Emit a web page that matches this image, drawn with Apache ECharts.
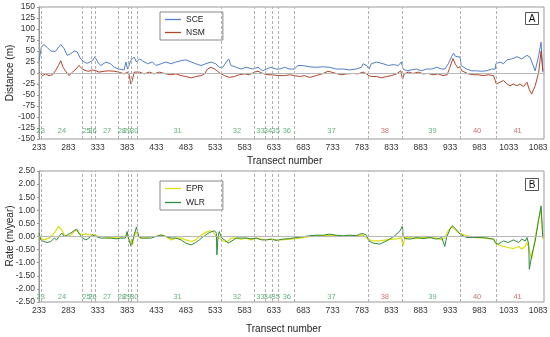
<!DOCTYPE html>
<html><head><meta charset="utf-8">
<script src="https://cdn.jsdelivr.net/npm/echarts@6/dist/echarts.min.js"></script>
<style>html,body{margin:0;padding:0;background:#fff}#c{width:550px;height:337px}</style>
</head><body><div id="c"></div>
<script>
// Transect numbers of the segment boundaries (dashed lines)
const boundaries = [236, 307, 322, 328, 368, 385, 390, 400, 543, 600, 618, 631, 641, 668, 793, 852, 951, 1011];
// Segment labels: [name, centre transect, isEroding]
const segNames   = ['23','24','25','26','27','28','29','30','31','32','33','34','35','36','37','38','39','40','41'];
const segCentres = [236, 272, 314, 324, 349, 374, 383, 395, 469, 570, 610, 623, 636, 655, 731, 822, 903, 979, 1048];
const segRed     = [0,0,0,0,0,0,0,0,0,0,0,0,0,0,0,1,0,1,1];
const xTicksFrom = 233, xTickStep = 50, xMax = 1093;

const SCE = [[233,28],[237,58],[241,65],[247,58],[253,50],[261,49],[270,65],[276,55],[281,40],[287,44],[293,50],[298,48],[304,32],[310,25],[315,22],[324,28],[328,37],[333,25],[338,17],[347,25],[355,21],[361,13],[369,9],[378,7],[381,25],[384,9],[389,28],[395,36],[399,25],[404,32],[409,28],[418,21],[426,25],[432,17],[441,21],[449,25],[458,21],[466,25],[475,28],[483,30],[492,25],[500,21],[509,17],[517,21],[526,25],[534,21],[540,13],[546,13],[552,25],[556,32],[560,17],[569,13],[577,9],[586,13],[597,9],[606,13],[614,5],[620,9],[628,13],[637,9],[643,9],[651,13],[660,9],[668,9],[674,17],[682,17],[694,14],[705,13],[717,14],[728,13],[739,9],[751,9],[762,7],[773,9],[782,13],[785,21],[791,17],[795,9],[799,21],[808,25],[819,21],[828,17],[836,19],[845,17],[850,25],[853,9],[859,5],[867,7],[876,9],[884,5],[893,9],[902,9],[910,13],[919,9],[924,9],[930,21],[936,38],[939,45],[942,38],[945,42],[950,36],[952,17],[961,9],[970,5],[978,5],[987,4],[995,5],[1004,9],[1010,9],[1011,21],[1018,25],[1024,21],[1030,30],[1038,32],[1047,37],[1055,32],[1064,40],[1069,36],[1078,5],[1084,40],[1088,70],[1091,2]];
const NSM = [[233,2],[239,-6],[244,-2],[250,-6],[256,-4],[261,5],[266,17],[270,28],[274,13],[278,5],[284,-6],[290,2],[296,9],[301,17],[307,9],[313,5],[318,4],[324,7],[330,5],[335,2],[344,4],[352,5],[361,4],[369,2],[378,-2],[384,2],[387,-6],[389,-25],[392,-17],[395,2],[398,5],[404,2],[412,-2],[421,2],[429,-2],[438,2],[449,-2],[458,-4],[466,-2],[475,-6],[483,-8],[492,-11],[500,-8],[509,-6],[515,-2],[520,9],[526,13],[532,9],[537,4],[543,-2],[549,-6],[557,-10],[566,-8],[574,-4],[583,-2],[591,-4],[600,2],[606,4],[614,-1],[623,-4],[631,-4],[640,-6],[643,-8],[651,-6],[660,-4],[668,-6],[677,-8],[685,-6],[694,-10],[705,-6],[717,-1],[725,4],[731,2],[739,-1],[748,-4],[756,-2],[768,-1],[776,-2],[785,2],[791,-2],[795,-6],[799,-8],[808,-8],[816,-11],[825,-8],[833,-6],[842,-2],[849,5],[852,-14],[855,-2],[862,2],[870,-1],[879,2],[887,-2],[896,-1],[904,-4],[913,-2],[921,-6],[928,-4],[932,10],[938,33],[942,20],[946,12],[950,14],[953,5],[956,2],[964,-2],[973,-4],[981,-4],[990,-6],[998,-4],[1007,-6],[1010,-10],[1012,-25],[1018,-21],[1024,-17],[1030,-25],[1035,-29],[1041,-25],[1047,-29],[1052,-25],[1058,-31],[1064,-21],[1068,-38],[1072,-48],[1078,-29],[1084,2],[1088,50],[1091,5]];
const EPR = [[233,0],[236,-0.06],[241,-0.13],[250,-0.06],[256,0.06],[261,0.19],[266,0.38],[269,0.45],[272,0.25],[276,0.06],[281,0],[287,0.06],[293,0.19],[297,0.25],[301,0.13],[307,0.06],[313,0.1],[318,0.06],[327,0.06],[335,0],[344,0],[352,-0.06],[361,-0.04],[370,-0.06],[378,0],[384,0.06],[387,-0.13],[390,-0.19],[392,-0.32],[395,0],[398,0.19],[401,0.06],[406,-0.06],[415,-0.06],[424,0],[432,0],[441,0.06],[449,0],[458,-0.13],[466,-0.06],[475,-0.06],[483,-0.13],[492,-0.19],[500,-0.13],[506,0],[515,0.13],[523,0.22],[529,0.19],[535,0],[540,-0.06],[544,-0.13],[549,-0.19],[554,-0.19],[560,-0.06],[569,-0.06],[577,-0.1],[586,-0.06],[594,-0.13],[603,-0.06],[612,-0.1],[620,-0.13],[628,-0.1],[637,-0.13],[648,-0.13],[660,-0.1],[671,-0.08],[682,-0.04],[694,-0.01],[705,0.03],[717,0.03],[728,0.05],[739,0.03],[751,-0.01],[762,0.03],[773,0.03],[785,0.06],[793,-0.1],[802,-0.17],[813,-0.17],[825,-0.13],[836,-0.1],[845,-0.08],[850,-0.04],[853,-0.36],[856,-0.04],[865,-0.04],[876,-0.08],[887,-0.04],[899,-0.04],[910,-0.06],[919,-0.13],[924,-0.04],[930,0.22],[936,0.38],[941,0.28],[947,0.15],[953,0.09],[961,0.03],[970,-0.01],[978,-0.04],[990,-0.04],[998,-0.08],[1007,-0.1],[1010,-0.17],[1012,-0.29],[1024,-0.38],[1032,-0.42],[1041,-0.46],[1050,-0.38],[1055,-0.48],[1061,-0.38],[1064,-0.23],[1068,-0.48],[1072,-0.87],[1078,-0.04],[1084,0.66],[1088,1.04],[1091,-0.1]];
const WLR = [[233,0.13],[236,-0.13],[241,-0.19],[247,-0.23],[253,-0.19],[259,-0.06],[263,-0.13],[267,0],[272,0.13],[276,0],[281,0.06],[287,0.13],[293,0.23],[297,0.28],[301,0.13],[307,-0.06],[313,-0.13],[318,-0.06],[324,0.06],[330,0],[338,-0.06],[347,-0.06],[355,-0.06],[364,-0.09],[372,-0.06],[380,-0.06],[383,0.19],[386,-0.13],[390,-0.38],[392,-0.32],[395,0.06],[399,0.36],[403,0],[407,-0.06],[415,-0.06],[424,-0.06],[432,0],[441,0.06],[449,0],[458,-0.06],[466,-0.06],[475,-0.13],[483,-0.25],[492,-0.32],[500,-0.23],[506,-0.13],[515,0.03],[523,0.15],[532,0.22],[535,0.13],[536,-0.7],[538,0],[540,0.19],[544,-0.06],[549,-0.13],[555,-0.25],[560,-0.19],[569,-0.06],[577,-0.06],[586,-0.06],[594,-0.09],[603,-0.06],[612,-0.13],[620,-0.13],[629,-0.1],[637,-0.15],[648,-0.1],[660,-0.08],[671,-0.04],[682,-0.01],[694,0.03],[705,0.05],[717,0.05],[728,0.09],[739,0.05],[751,0.03],[762,0.05],[774,0.03],[779,0.09],[785,0.11],[791,0.05],[795,-0.17],[802,-0.25],[813,-0.29],[822,-0.2],[830,-0.1],[839,0.03],[848,0.22],[852,0.41],[853,0.03],[856,-0.08],[865,-0.1],[876,-0.04],[887,-0.08],[899,-0.04],[910,-0.1],[919,-0.04],[924,-0.38],[927,-0.04],[933,0.28],[937,0.41],[943,0.28],[950,0.09],[961,-0.04],[973,-0.04],[984,-0.04],[996,-0.06],[1007,-0.1],[1010,-0.23],[1015,-0.29],[1024,-0.17],[1032,-0.23],[1041,-0.13],[1050,-0.23],[1055,-0.1],[1061,-0.17],[1064,-0.04],[1067,-0.29],[1068,-1.25],[1072,-0.74],[1078,-0.17],[1084,0.66],[1088,1.17],[1091,-0.04]];

const FONT = 'Liberation Sans, Arial, sans-serif';
const GREEN_LBL = '#3f9d5c', RED_LBL = '#c0504d';
const LINE_ICON = 'path://M0,0 L20,0 L20,1.6 L0,1.6 Z';
function segSeries(xi, yi, yPos) {
  return {
    type: 'scatter', xAxisIndex: xi, yAxisIndex: yi, symbolSize: 0, silent: true, z: 5,
    data: segNames.map((n, i) => ({ name: n, value: [segCentres[i], yPos],
      label: { color: segRed[i] ? RED_LBL : GREEN_LBL } })),
    label: { show: true, position: 'inside', formatter: p => p.name, fontSize: 7.5, fontFamily: FONT }
  };
}
function vlines() {
  return { silent: true, symbol: 'none', label: { show: false },
    lineStyle: { color: '#b0b0b0', type: [3, 2], width: 1 },
    data: boundaries.map(b => ({ xAxis: b })).concat([{ yAxis: 0, lineStyle: { color: '#b8b8b8', type: 'solid', width: 1 } }]) };
}
const xAxisBase = (gi) => ({
  type: 'value', gridIndex: gi, min: xTicksFrom, max: xMax, interval: xTickStep,
  axisLine: { show: true, lineStyle: { color: '#999' } }, axisTick: { show: false },
  splitLine: { show: false },
  axisLabel: { fontSize: 8.5, color: '#333', fontFamily: FONT, margin: 4, showMaxLabel: false, formatter: v => String(v) }
});
const yAxisBase = (gi) => ({
  type: 'value', gridIndex: gi,
  axisLine: { show: true, lineStyle: { color: '#999' } }, axisTick: { show: true, length: 2, lineStyle: { color: '#999' } },
  splitLine: { show: false }
});
const legendBase = {
  orient: 'vertical', left: 160, width: 62, icon: LINE_ICON,
  backgroundColor: '#fff', borderColor: '#888', borderWidth: 1, padding: [3, 18, 3, 5],
  itemWidth: 16, itemHeight: 2, textStyle: { fontSize: 8.5, color: '#222', fontFamily: FONT }
};
const chart = echarts.init(document.getElementById('c'), null, { renderer: 'canvas' });
chart.setOption({
  animation: false,
  backgroundColor: '#fff',
  grid: [
    { left: 39, right: 6, top: 7, height: 132, show: true, borderColor: '#999', borderWidth: 1, containLabel: false, outerBoundsMode: 'none' },
    { left: 39, right: 6, top: 171, height: 131, show: true, borderColor: '#999', borderWidth: 1, containLabel: false, outerBoundsMode: 'none' }
  ],
  xAxis: [xAxisBase(0), xAxisBase(1)],
  yAxis: [
    Object.assign(yAxisBase(0), { min: -150, max: 150, interval: 25,
      axisLabel: { fontSize: 8.5, color: '#333', fontFamily: FONT, margin: 4 } }),
    Object.assign(yAxisBase(1), { min: -2.5, max: 2.5, interval: 0.5,
      axisLabel: { fontSize: 8.5, color: '#333', fontFamily: FONT, margin: 4, formatter: v => v.toFixed(2) } })
  ],
  legend: [
    Object.assign({}, legendBase, { data: ['SCE', 'NSM'], top: 12, itemGap: 4 }),
    Object.assign({}, legendBase, { data: ['EPR', 'WLR'], top: 181, itemGap: 5 })
  ],
  graphic: [
    { type: 'text', x: 10, y: 73, rotation: Math.PI / 2,
      style: { text: 'Distance (m)', font: '10px ' + FONT, fill: '#222', align: 'center', verticalAlign: 'middle' } },
    { type: 'text', x: 10, y: 236, rotation: Math.PI / 2,
      style: { text: 'Rate (m/year)', font: '10px ' + FONT, fill: '#222', align: 'center', verticalAlign: 'middle' } },
    { type: 'text', left: 247, top: 156, style: { text: 'Transect number', font: '10px ' + FONT, fill: '#222' } },
    { type: 'text', left: 246, top: 324, style: { text: 'Transect number', font: '10px ' + FONT, fill: '#222' } },
    { type: 'group', left: 525, top: 12, children: [
      { type: 'rect', shape: { x: 0, y: 0, width: 13, height: 12 }, style: { fill: '#fff', stroke: '#555', lineWidth: 1 } },
      { type: 'text', x: 6.5, y: 6.5, style: { text: 'A', font: '10px ' + FONT, fill: '#111', align: 'center', verticalAlign: 'middle' } } ] },
    { type: 'group', left: 525, top: 178, children: [
      { type: 'rect', shape: { x: 0, y: 0, width: 13, height: 12 }, style: { fill: '#fff', stroke: '#555', lineWidth: 1 } },
      { type: 'text', x: 6.5, y: 6.5, style: { text: 'B', font: '10px ' + FONT, fill: '#111', align: 'center', verticalAlign: 'middle' } } ] }
  ],
  series: [
    { name: 'SCE', type: 'line', xAxisIndex: 0, yAxisIndex: 0, data: SCE, symbol: 'none', z: 3,
      lineStyle: { color: '#4f7fc8', width: 1 }, itemStyle: { color: '#4f7fc8' }, markLine: vlines() },
    { name: 'NSM', type: 'line', xAxisIndex: 0, yAxisIndex: 0, data: NSM, symbol: 'none', z: 4,
      lineStyle: { color: '#b0452a', width: 1 }, itemStyle: { color: '#b0452a' } },
    { name: 'EPR', type: 'line', xAxisIndex: 1, yAxisIndex: 1, data: EPR, symbol: 'none', z: 3,
      lineStyle: { color: '#dede10', width: 1.2 }, itemStyle: { color: '#dede10' }, markLine: vlines() },
    { name: 'WLR', type: 'line', xAxisIndex: 1, yAxisIndex: 1, data: WLR, symbol: 'none', z: 4,
      lineStyle: { color: '#2f8a3c', width: 1 }, itemStyle: { color: '#2f8a3c' } },
    segSeries(0, 0, -132),
    segSeries(1, 1, -2.29)
  ]
});
</script></body></html>
